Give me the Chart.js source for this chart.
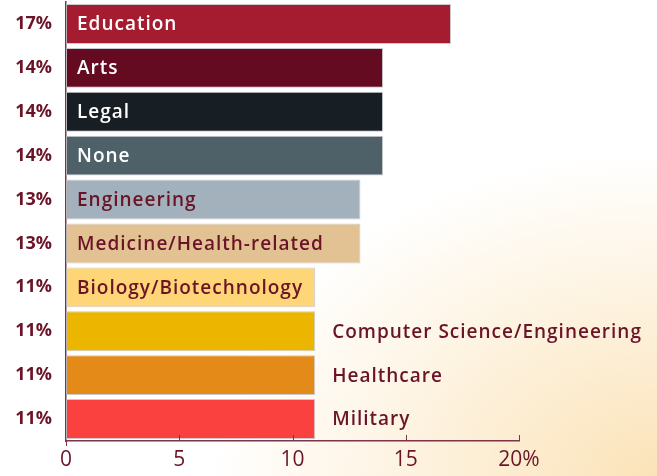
<!DOCTYPE html>
<html lang="en">
<head>
    <meta charset="UTF-8">
    <title>Fields of study</title>
    <script src="https://cdn.jsdelivr.net/npm/chart.js"></script>
    <style>
        html, body {
            margin: 0;
            padding: 0;
        }
        body {
            width: 657px;
            height: 476px;
            overflow: hidden;
            background: radial-gradient(ellipse at 100% 100%, #fbe3b8 0%, #fdf0d9 22%, #ffffff 48%);
        }
        .chart-box {
            position: relative;
            width: 657px;
            height: 476px;
        }
    </style>
</head>
<body>
    <div class="chart-box">
        <canvas id="myChart"></canvas>
    </div>

    <script>
        const categories = ['Education', 'Arts', 'Legal', 'None', 'Engineering',
            'Medicine/Health-related', 'Biology/Biotechnology',
            'Computer Science/Engineering', 'Healthcare', 'Military'];
        const values = [17, 14, 14, 14, 13, 13, 11, 11, 11, 11];
        const xTicks = [0, 5, 10, 15, 20];

        const barColors = ['#a51c30', '#640a21', '#171f25', '#4e6169', '#a2b1bc',
            '#e2c293', '#fed577', '#ebb500', '#e48a19', '#fb4140'];
        const labelColors = ['#ffffff', '#ffffff', '#ffffff', '#ffffff', '#6b1428',
            '#6b1428', '#6b1428', '#6b1428', '#6b1428', '#6b1428'];
        const labelOutside = [false, false, false, false, false, false, false, true, true, true];

        const maroon = '#6b1428';
        const axisColor = '#7d3448';

        // names written on (or next to) each bar
        const barLabels = {
            id: 'barLabels',
            afterDatasetsDraw(chart) {
                const ctx = chart.ctx;
                const meta = chart.getDatasetMeta(0);
                ctx.save();
                ctx.font = '600 19px "Open Sans"';
                ctx.letterSpacing = '1px';
                ctx.textBaseline = 'middle';
                ctx.textAlign = 'left';
                meta.data.forEach((bar, i) => {
                    const x = labelOutside[i] ? bar.x + 17 : bar.base + 11;
                    ctx.fillStyle = labelColors[i];
                    ctx.fillText(categories[i], x, bar.y + 1);
                });
                ctx.restore();
            }
        };

        // small ticks pointing up into the plot, plus the 0 tick below
        const axisTicks = {
            id: 'axisTicks',
            afterDraw(chart) {
                const ctx = chart.ctx;
                const xs = chart.scales.x;
                const y = xs.top;
                ctx.save();
                ctx.strokeStyle = axisColor;
                ctx.lineWidth = 1;
                xTicks.forEach(v => {
                    const px = Math.round(xs.getPixelForValue(v)) + 0.5;
                    ctx.beginPath();
                    if (v === 0) {
                        ctx.moveTo(px, y);
                        ctx.lineTo(px, y + 5);
                    } else {
                        ctx.moveTo(px, y);
                        ctx.lineTo(px, y - 6);
                    }
                    ctx.stroke();
                });
                ctx.restore();
            }
        };

        new Chart(document.getElementById('myChart'), {
            type: 'bar',
            data: {
                labels: categories,
                datasets: [{
                    data: values,
                    backgroundColor: barColors,
                    borderColor: 'rgba(185, 185, 190, 0.75)',
                    borderWidth: 1,
                    borderSkipped: false,
                    barPercentage: 0.91,
                    categoryPercentage: 1
                }]
            },
            options: {
                indexAxis: 'y',
                responsive: true,
                maintainAspectRatio: false,
                animation: false,
                layout: { padding: { top: 2, right: 138, left: 0, bottom: 0 } },
                plugins: {
                    legend: { display: false },
                    tooltip: { enabled: false }
                },
                scales: {
                    x: {
                        min: 0,
                        max: 20,
                        afterBuildTicks(scale) {
                            scale.ticks = xTicks.map(v => ({ value: v }));
                        },
                        afterFit(scale) {
                            scale.height = 35;
                            scale.paddingLeft = 0;
                            scale.paddingRight = 0;
                        },
                        grid: { display: false, drawTicks: false },
                        border: { display: true, color: axisColor, width: 1.5 },
                        ticks: {
                            color: maroon,
                            font: { family: '"Open Sans"', size: 21, weight: '400' },
                            padding: 6,
                            maxRotation: 0,
                            callback: v => v === 20 ? v + '%' : v
                        }
                    },
                    y: {
                        afterFit(scale) {
                            scale.width = 66;
                            scale.paddingTop = 0;
                            scale.paddingBottom = 0;
                        },
                        grid: { display: false, drawTicks: false },
                        border: { display: true, color: axisColor, width: 1.5 },
                        ticks: {
                            color: maroon,
                            font: { family: '"Open Sans"', size: 18, weight: '700' },
                            padding: 14,
                            callback: (v, i) => values[i] + '%'
                        }
                    }
                }
            },
            plugins: [barLabels, axisTicks]
        });
    </script>
</body>
</html>
